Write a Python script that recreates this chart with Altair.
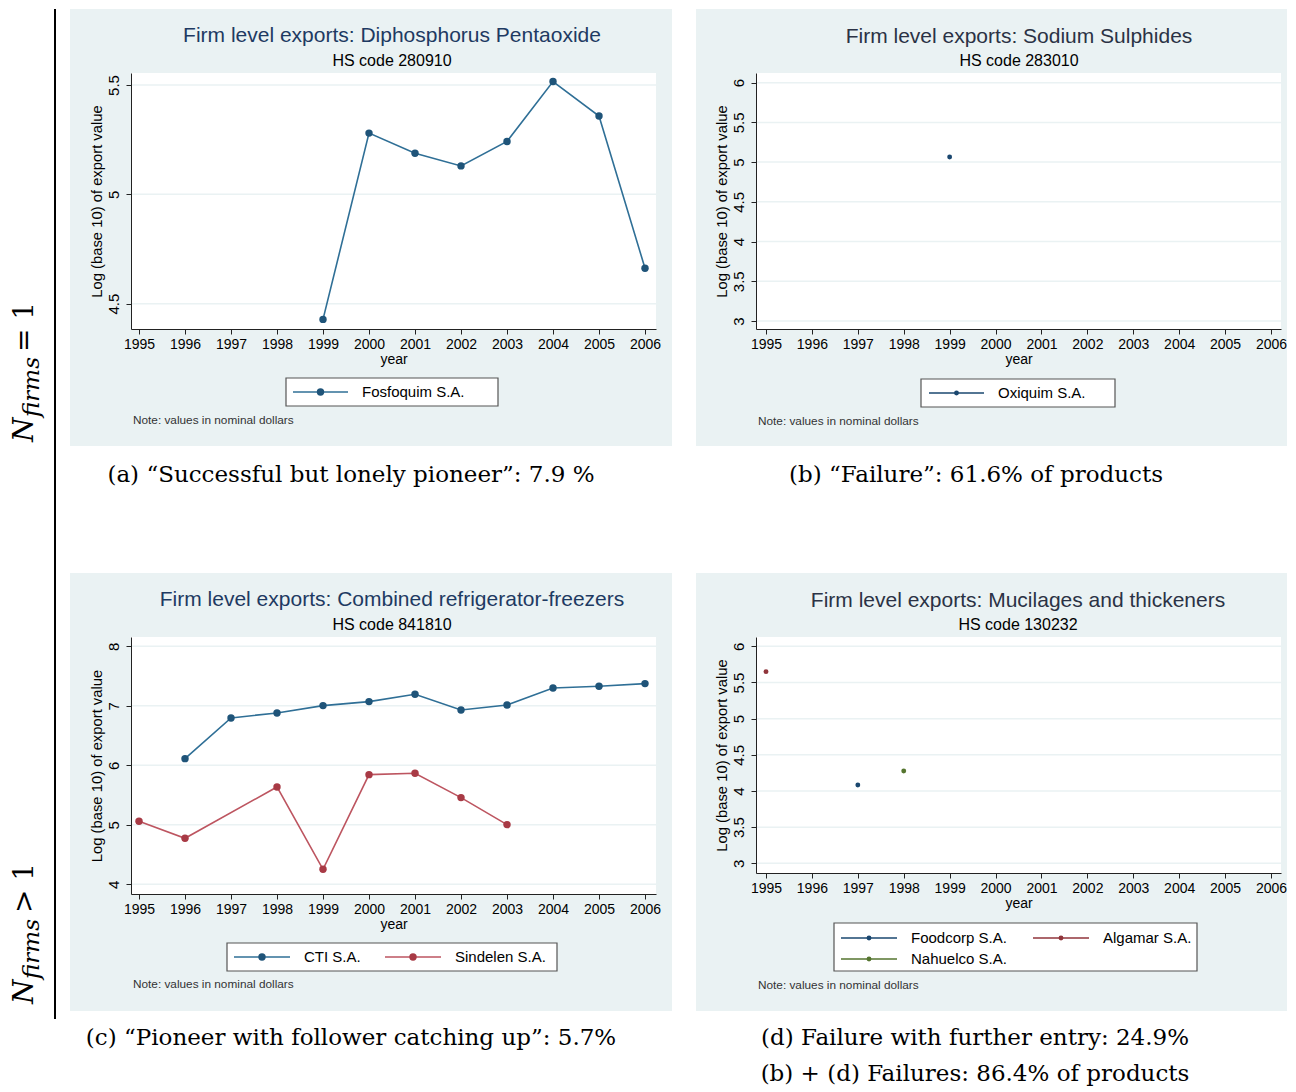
import altair as alt
import pandas as pd

# ---------------- data ----------------
YEARS = list(range(1995, 2007))

a_firm = "Fosfoquim S.A."
a_years = [1999, 2000, 2001, 2002, 2003, 2004, 2005, 2006]
a_values = [4.428, 5.280, 5.188, 5.130, 5.242, 5.516, 5.358, 4.662]

b_firm = "Oxiquim S.A."
b_years = [1999]
b_values = [5.064]

c_firms = ["CTI S.A.", "Sindelen S.A."]
c_cti_years = [1996, 1997, 1998, 1999, 2000, 2001, 2002, 2003, 2004, 2005, 2006]
c_cti_values = [6.112, 6.796, 6.880, 7.003, 7.070, 7.193, 6.930, 7.014, 7.300, 7.328, 7.373]
c_sin_years = [1995, 1996, 1998, 1999, 2000, 2001, 2002, 2003]
c_sin_values = [5.059, 4.773, 5.636, 4.252, 5.843, 5.866, 5.457, 5.003]

d_firms = ["Foodcorp S.A.", "Algamar S.A.", "Nahuelco S.A."]
d_years = [1997, 1995, 1998]
d_values = [4.083, 5.650, 4.276]

titles = [
    "Firm level exports: Diphosphorus Pentaoxide",
    "Firm level exports: Sodium Sulphides",
    "Firm level exports: Combined refrigerator-freezers",
    "Firm level exports: Mucilages and thickeners",
]
subtitles = ["HS code 280910", "HS code 283010", "HS code 841810", "HS code 130232"]
captions = [
    ["(a) \u201cSuccessful but lonely pioneer\u201d: 7.9 %"],
    ["(b) \u201cFailure\u201d: 61.6% of products"],
    ["(c) \u201cPioneer with follower catching up\u201d: 5.7%"],
    ["(d) Failure with further entry: 24.9%", "(b) + (d) Failures: 86.4% of products"],
]
NOTE = "Note: values in nominal dollars"
YTITLE = "Log (base 10) of export value"

# ---------------- style ----------------
SANS = "Liberation Sans"
SERIF = "DejaVu Serif"
BG = "#eaf2f3"
GRID = "#eaf2f3"
NAVY_T = "#1e3a62"
GRAY_T = "#2b3245"

one = pd.DataFrame({"k": [0]})


def deco_rect(x0, x1, y0, y1, **kw):
    return alt.Chart(one).mark_rect(**kw).encode(
        x=alt.value(x0), x2=alt.value(x1), y=alt.value(y0), y2=alt.value(y1))


def deco_text(x, y, txt, **kw):
    return alt.Chart(one).mark_text(**kw).encode(
        x=alt.value(x), y=alt.value(y), text=alt.value(txt))


def panel(cfg):
    W, H = cfg["w"], cfg["h"]
    xs = alt.Scale(domain=cfg["xdom"], nice=False, zero=False)
    ys = alt.Scale(domain=cfg["ydom"], nice=False, zero=False)
    xaxis = alt.Axis(values=YEARS, format="d", labelAngle=0, labelFont=SANS,
                     labelFontSize=14, labelColor="black", tickSize=5,
                     tickColor="#222", domainColor="#222", labelPadding=3,
                     titleFont=SANS, titleFontSize=14, titleFontWeight="normal",
                     titleColor="black", titlePadding=1, grid=False, zindex=1,
                     labelFlush=False, labelOverlap=False)
    yaxis = alt.Axis(values=cfg["yticks"], format="~g", labelAngle=270, labelAlign="center",
                     labelBaseline="bottom", labelFont=SANS, labelFontSize=15,
                     labelColor="black", tickSize=5, tickColor="#222",
                     domainColor="#222", labelPadding=5, titleFont=SANS,
                     titleFontSize=14.8, titleFontWeight="normal",
                     titleColor="black", titlePadding=2, grid=False, zindex=1,
                     labelFlush=False, labelOverlap=False)

    def X(f):
        return alt.X(f, type="quantitative", scale=xs, axis=xaxis, title="year")

    def Y(f):
        return alt.Y(f, type="quantitative", scale=ys, axis=yaxis, title=YTITLE)

    gx0, gx1, gy0, gy1 = cfg["grey"]
    layers = [
        deco_rect(gx0, gx1, gy0, gy1, color=BG),
        deco_rect(0, W, 0, H, color="white"),
        alt.Chart(pd.DataFrame({"tick": cfg["yticks"]})).mark_rule(
            color=GRID, strokeWidth=1.5).encode(
            x=alt.value(0), x2=alt.value(W), y=Y("tick")),
    ]
    df = cfg["df"]
    firms = cfg["firms"]
    layers.append(alt.Chart(df).mark_line(strokeWidth=1.6).encode(
        x=X("year"), y=Y("value"),
        color=alt.Color("firm:N", scale=alt.Scale(domain=firms, range=cfg["lcol"]), legend=None),
        detail="firm:N"))
    layers.append(alt.Chart(df).mark_point(filled=True, opacity=1, size=cfg["psize"]).encode(
        x=X("year"), y=Y("value"),
        fill=alt.Fill("firm:N", scale=alt.Scale(domain=firms, range=cfg["pcol"]), legend=None)))

    # titles
    layers.append(deco_text(cfg["tx"], -37 + cfg["tdy"], titles[cfg["i"]], font=SANS, fontSize=21,
                            color=cfg["tcol"], align="center", baseline="middle"))
    layers.append(deco_text(cfg["tx"], -12, subtitles[cfg["i"]], font=SANS, fontSize=16,
                            color="black", align="center", baseline="middle"))
    # legend
    bx0, bx1, by0, by1 = cfg["lbox"]
    layers.append(deco_rect(bx0, bx1, by0, by1, fill="white", stroke="#555", strokeWidth=1.2))
    for (lx0, lx1, ly, tx, name, lc, pc) in cfg["lentries"]:
        layers.append(alt.Chart(one).mark_rule(color=lc, strokeWidth=1.6).encode(
            x=alt.value(lx0), x2=alt.value(lx1), y=alt.value(ly)))
        layers.append(alt.Chart(one).mark_point(filled=True, opacity=1, size=cfg["psize"], color=pc).encode(
            x=alt.value((lx0 + lx1) / 2), y=alt.value(ly)))
        layers.append(deco_text(tx, ly, name, font=SANS, fontSize=15, color="black",
                                align="left", baseline="middle"))
    # note
    layers.append(deco_text(2, cfg["noty"], NOTE, font=SANS, fontSize=11.8, color="#333",
                            align="left", baseline="middle"))
    # captions
    for k, cap in enumerate(captions[cfg["i"]]):
        layers.append(deco_text(cfg["capx"], cfg["capy"][k], cap, font=SERIF, fontSize=23,
                                color="black", align="center", baseline="middle"))
    layers += cfg.get("extra", [])
    return alt.layer(*layers).resolve_scale(color="independent", fill="independent").properties(
        width=W, height=H)


def nlabel(y_n, y_sign, sign):
    return [
        deco_text(-98, y_n, "N", font=SERIF, fontSize=28, fontStyle="italic", angle=270,
                  align="left", baseline="alphabetic", color="black"),
        deco_text(-92, y_n - 25, "firms", font=SERIF, fontSize=23, fontStyle="italic", angle=270,
                  align="left", baseline="alphabetic", color="black"),
        deco_text(-98, y_sign, sign + " 1", font=SERIF, fontSize=28, angle=270,
                  align="left", baseline="alphabetic", color="black"),
    ]


df_a = pd.DataFrame({"year": a_years, "value": a_values, "firm": a_firm})
df_b = pd.DataFrame({"year": b_years, "value": b_values, "firm": b_firm})
df_c = pd.concat([
    pd.DataFrame({"year": c_cti_years, "value": c_cti_values, "firm": c_firms[0]}),
    pd.DataFrame({"year": c_sin_years, "value": c_sin_values, "firm": c_firms[1]}),
])
df_d = pd.DataFrame({"year": d_years, "value": d_values, "firm": d_firms})

BL_L, BL_P = "#2f6f96", "#1f5479"
RD_L, RD_P = "#bd5560", "#a83a45"
NV, MR, GR = "#1a476f", "#90353b", "#55752f"

XDOM_L = [1994.826, 2006.239]
XDOM_R = [1994.782, 2006.218]

pa = panel(dict(i=0, w=525, h=256, xdom=XDOM_L, ydom=[4.384, 5.555], yticks=[4.5, 5, 5.5],
                grey=(-61, 541, -64, 373), df=df_a, firms=[a_firm], lcol=[BL_L], pcol=[BL_P],
                psize=55, tx=261, tdy=0, tcol=NAVY_T, lbox=(155, 367, 305, 333),
                lentries=[(162, 217, 319, 231, a_firm, BL_L, BL_P)], noty=347,
                capx=220, capy=[402],
                extra=nlabel(369, 279, "=") + [
                    alt.Chart(one).mark_rule(color="black", strokeWidth=2).encode(
                        x=alt.value(-76), y=alt.value(-64), y2=alt.value(946)),
                    alt.Chart(one).mark_rule(color="white", strokeWidth=1).encode(
                        x=alt.value(-122.5), y=alt.value(-64), y2=alt.value(-63)),
                ]))

pb = panel(dict(i=1, w=525, h=256, xdom=XDOM_R, ydom=[2.899, 6.122],
                yticks=[3, 3.5, 4, 4.5, 5, 5.5, 6],
                grey=(-60, 531, -64, 373), df=df_b, firms=[b_firm], lcol=[NV], pcol=[NV],
                psize=24, tx=263, tdy=1, tcol=GRAY_T, lbox=(165, 359, 306, 334),
                lentries=[(173, 228, 320, 242, b_firm, NV, NV)], noty=348,
                capx=220, capy=[402]))

pc = panel(dict(i=2, w=525, h=257, xdom=XDOM_L, ydom=[3.837, 8.156], yticks=[4, 5, 6, 7, 8],
                grey=(-61, 541, -64, 374), df=df_c, firms=c_firms, lcol=[BL_L, RD_L],
                pcol=[BL_P, RD_P], psize=55, tx=261, tdy=0, tcol=NAVY_T,
                lbox=(96, 426, 306, 334),
                lentries=[(103, 159, 320, 173, c_firms[0], BL_L, BL_P),
                          (254, 310, 320, 324, c_firms[1], RD_L, RD_P)],
                noty=347, capx=220, capy=[401], extra=nlabel(367, 276, ">")))

pd_ = panel(dict(i=3, w=525, h=236, xdom=XDOM_R, ydom=[2.866, 6.129],
                 yticks=[3, 3.5, 4, 4.5, 5, 5.5, 6],
                 grey=(-60, 531, -64, 374), df=df_d, firms=d_firms, lcol=[NV, MR, GR],
                 pcol=[NV, MR, GR], psize=24, tx=262, tdy=1, tcol=GRAY_T,
                 lbox=(78, 441, 286, 334),
                 lentries=[(85, 141, 301, 155, d_firms[0], NV, NV),
                           (277, 333, 301, 347, d_firms[1], MR, MR),
                           (85, 141, 322, 155, d_firms[2], GR, GR)],
                 noty=348, capx=219, capy=[401, 437]))

chart = alt.concat(pa, pb, pc, pd_, columns=2, spacing={"row": 308, "column": 100},
                   bounds="flush").properties(padding=0, autosize=alt.AutoSizeParams(type="pad")
).configure_view(stroke=None, fill="white")

chart.save("out.html", embed_options={"renderer": "svg", "actions": False})
